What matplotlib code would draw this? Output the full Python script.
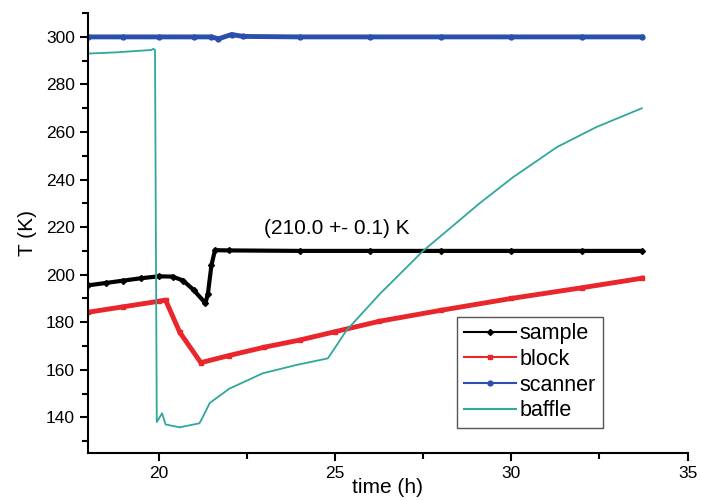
import matplotlib
matplotlib.use("Agg")
import matplotlib.pyplot as plt
from matplotlib.ticker import MultipleLocator

plt.rcParams['font.family'] = ['Liberation Sans', 'DejaVu Sans']

# time (h) and temperature (K)
sample_t = [18.0, 18.5, 19.0, 19.5, 20.0, 20.4, 20.7, 21.0, 21.33, 21.4, 21.5, 21.6, 22.0, 24.0, 26.0, 28.0, 30.0, 32.0, 33.7]
sample_T = [195.5, 196.5, 197.5, 198.5, 199.3, 199.2, 197.5, 193.5, 188.0, 192.0, 204.0, 210.3, 210.2, 210.0, 210.0, 210.0, 210.0, 210.0, 210.0]

block_t = [18.0, 19.0, 20.0, 20.2, 20.6, 21.2, 22.0, 23.0, 24.0, 25.0, 26.26, 28.0, 30.0, 32.0, 33.7]
block_T = [184.2, 186.5, 188.8, 189.3, 175.8, 163.0, 166.0, 169.5, 172.5, 176.0, 180.4, 185.0, 190.0, 194.5, 198.5]

scanner_t = [18.0, 19.0, 20.0, 21.0, 21.5, 21.7, 22.07, 22.4, 24.0, 26.0, 28.0, 30.0, 32.0, 33.7]
scanner_T = [300.0, 300.0, 300.0, 300.0, 300.0, 299.2, 301.0, 300.2, 300.0, 300.0, 300.0, 300.0, 300.0, 300.0]

baffle_t = [18.0, 18.8, 19.3, 19.8, 19.85, 19.9, 19.95, 20.1, 20.2, 20.6, 21.16, 21.25, 21.45, 22.0, 22.95, 23.9,
            24.8, 25.33, 26.28, 27.5, 29.1, 30.05, 31.3, 32.4, 33.7]
baffle_T = [293.0, 293.5, 294.0, 294.5, 295.0, 294.5, 138.0, 141.7, 137.0, 135.8, 137.5, 140.0, 146.0, 152.0, 158.5, 162.0,
            164.8, 176.6, 192.0, 210.0, 230.0, 241.0, 253.7, 262.0, 270.0]

fig = plt.figure(figsize=(7.01, 5.01), dpi=100)
ax = fig.add_axes([0.1255, 0.0958, 0.8555, 0.878])

ax.plot(sample_t, sample_T, color='black', lw=3, marker='D', ms=3, label='sample')
ax.plot(block_t, block_T, color='#e8262b', lw=3.5, marker='s', ms=3, label='block')
ax.plot(scanner_t, scanner_T, color='#2b4fae', lw=3.5, marker='o', ms=3.5, label='scanner')
ax.plot(baffle_t, baffle_T, color='#2ea89c', lw=1.3, label='baffle')

ax.text(25.06, 219.6, '(210.0 +- 0.1) K', fontsize=15, ha='center', va='center')

ax.set_xlim(18, 35)
ax.set_ylim(125, 310)
ax.xaxis.set_major_locator(MultipleLocator(5))
ax.xaxis.set_minor_locator(MultipleLocator(2.5))
ax.yaxis.set_major_locator(MultipleLocator(20))
ax.yaxis.set_minor_locator(MultipleLocator(10))
ax.tick_params(which='both', direction='out', width=1.5, labelsize=12.5)
ax.tick_params(which='major', length=6)
ax.tick_params(which='minor', length=4)
ax.spines['top'].set_visible(False)
ax.spines['right'].set_visible(False)
ax.spines['left'].set_linewidth(1.5)
ax.spines['bottom'].set_linewidth(1.5)

ax.set_xlabel('time (h)', fontsize=15, labelpad=-2)
ax.set_ylabel('T (K)', fontsize=15, labelpad=6)

leg = ax.legend(loc='lower right', bbox_to_anchor=(0.858, 0.057), fontsize=15.5, fancybox=False,
                edgecolor='#555555', framealpha=1, handlelength=2.4, borderpad=0.3,
                labelspacing=0.22, handletextpad=0.2, borderaxespad=0, numpoints=1)
for h in leg.legend_handles:
    h.set_linewidth(1.5)

fig.savefig('out.png', dpi=100)
